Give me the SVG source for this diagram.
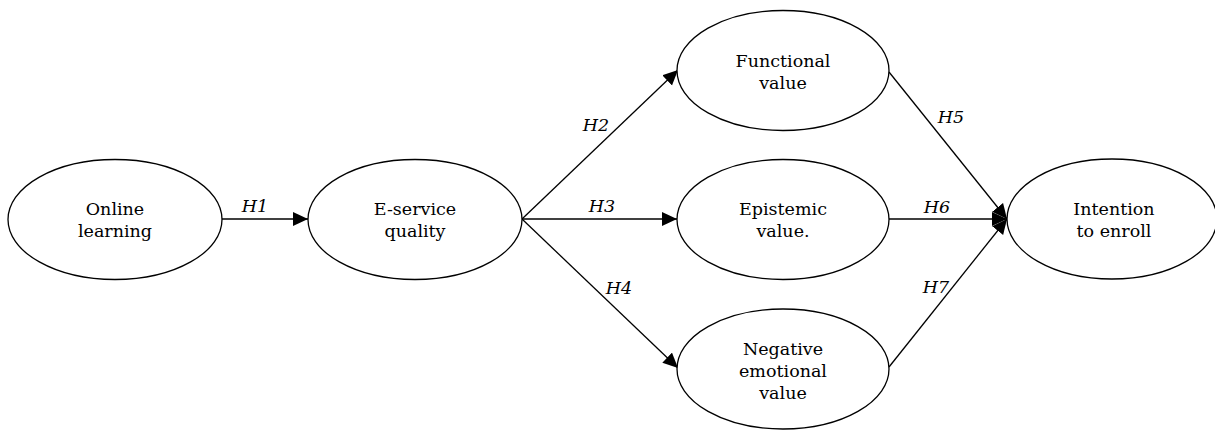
<svg xmlns="http://www.w3.org/2000/svg" width="1215" height="430" viewBox="0 0 1215 430">
<style>
.n{fill:#fff;stroke:#000;stroke-width:1.3}
.t{font-family:"DejaVu Serif",serif;font-size:17.5px;text-anchor:middle;fill:#000}
.l{font-family:"DejaVu Serif",serif;font-size:17.5px;font-style:italic;text-anchor:middle;fill:#000}
.e{stroke:#000;stroke-width:1.3;fill:none;marker-end:url(#ah)}
</style>
<defs>
<marker id="ah" markerUnits="userSpaceOnUse" markerWidth="16" markerHeight="16" refX="15" refY="7" orient="auto">
<path d="M0,0 L15,7 L0,14 z" fill="#000"/>
</marker>
</defs>
<rect width="1215" height="430" fill="#fff"/>
<g id="connectors">
<line class="e" x1="222" y1="219" x2="308" y2="219"/>
<line class="e" x1="522" y1="219" x2="678" y2="70"/>
<line class="e" x1="522" y1="219" x2="677" y2="219"/>
<line class="e" x1="522" y1="219" x2="678" y2="368"/>
<line class="e" x1="889" y1="72" x2="1007" y2="219"/>
<line class="e" x1="889" y1="219" x2="1007" y2="219"/>
<line class="e" x1="889" y1="367" x2="1007" y2="219"/>
<text class="l" x="255" y="212">H1</text>
<text class="l" x="596" y="131">H2</text>
<text class="l" x="602" y="212">H3</text>
<text class="l" x="619" y="294">H4</text>
<text class="l" x="951" y="123">H5</text>
<text class="l" x="937" y="213">H6</text>
<text class="l" x="936" y="293">H7</text>
</g>
<g id="online">
<ellipse class="n" cx="115" cy="219.5" rx="107" ry="60"/>
<text class="t" x="115" y="215">Online</text>
<text class="t" x="115" y="237">learning</text>
</g>
<g id="eservice">
<ellipse class="n" cx="415" cy="219.5" rx="107" ry="60"/>
<text class="t" x="415" y="215">E-service</text>
<text class="t" x="415" y="237">quality</text>
</g>
<g id="functional">
<ellipse class="n" cx="783" cy="70.5" rx="106" ry="60"/>
<text class="t" x="783" y="67">Functional</text>
<text class="t" x="783" y="89">value</text>
</g>
<g id="epistemic">
<ellipse class="n" cx="783" cy="219.5" rx="106" ry="60"/>
<text class="t" x="783" y="215">Epistemic</text>
<text class="t" x="783" y="237">value.</text>
</g>
<g id="negative">
<ellipse class="n" cx="783" cy="369" rx="106" ry="60"/>
<text class="t" x="783" y="355">Negative</text>
<text class="t" x="783" y="377">emotional</text>
<text class="t" x="783" y="399">value</text>
</g>
<g id="intention">
<ellipse class="n" cx="1112" cy="219" rx="105" ry="60"/>
<text class="t" x="1114" y="215">Intention</text>
<text class="t" x="1114" y="237">to enroll</text>
</g>
</svg>
